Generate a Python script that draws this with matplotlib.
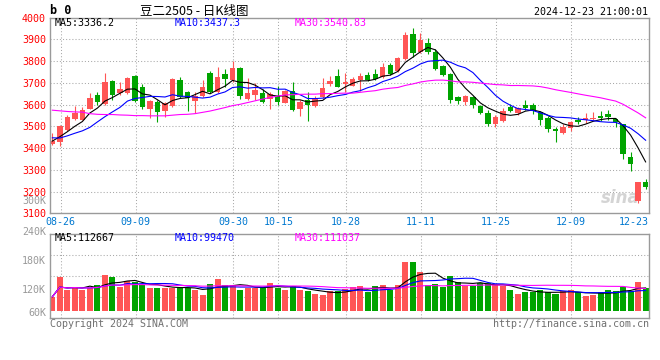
import matplotlib
matplotlib.use("Agg")
import matplotlib.pyplot as plt
import matplotlib.transforms as mtransforms
import numpy as np
import pandas as pd

plt.rcParams['font.family'] = ['DejaVu Sans Mono', 'Noto Sans CJK SC']

# ---------------- data ----------------
opens = [3418, 3428, 3483, 3534, 3531, 3580, 3643, 3604, 3708, 3653,
         3654, 3732, 3682, 3580, 3612, 3570, 3593, 3715, 3658, 3617,
         3639, 3744, 3659, 3741, 3712, 3770, 3625, 3644, 3655, 3625,
         3638, 3608, 3662, 3581, 3619, 3593, 3636, 3694, 3733, 3693,
         3687, 3713, 3736, 3741, 3725, 3782, 3754, 3808, 3925, 3840,
         3882, 3843, 3777, 3741, 3633, 3613, 3633, 3594, 3560, 3509,
         3525, 3587, 3563, 3598, 3598, 3564, 3539, 3488, 3468, 3494,
         3529, 3529, 3532, 3548, 3556, 3533, 3509, 3360, 3157, 3245]
closes = [3432, 3499, 3541, 3563, 3574, 3628, 3612, 3702, 3644, 3672,
          3723, 3618, 3587, 3616, 3566, 3606, 3717, 3635, 3632, 3638,
          3682, 3659, 3728, 3716, 3770, 3637, 3655, 3667, 3612, 3648,
          3611, 3663, 3575, 3611, 3598, 3632, 3678, 3709, 3682, 3702,
          3718, 3731, 3713, 3716, 3774, 3741, 3816, 3921, 3836, 3897,
          3841, 3762, 3736, 3621, 3618, 3639, 3598, 3560, 3509, 3541,
          3570, 3572, 3582, 3583, 3568, 3529, 3489, 3476, 3496, 3520,
          3518, 3539, 3540, 3536, 3544, 3521, 3371, 3325, 3242, 3222]
highs = [3470, 3504, 3552, 3593, 3590, 3653, 3658, 3743, 3712, 3705,
         3727, 3737, 3696, 3621, 3620, 3610, 3720, 3725, 3660, 3657,
         3713, 3756, 3774, 3762, 3802, 3773, 3724, 3698, 3672, 3659,
         3685, 3668, 3705, 3621, 3659, 3641, 3722, 3732, 3762, 3744,
         3728, 3744, 3750, 3762, 3790, 3793, 3820, 3935, 3954, 3931,
         3907, 3854, 3780, 3743, 3639, 3643, 3638, 3598, 3575, 3552,
         3583, 3601, 3590, 3621, 3606, 3570, 3545, 3498, 3512, 3524,
         3544, 3559, 3567, 3570, 3575, 3540, 3512, 3383, 3245, 3258]
lows = [3414, 3410, 3480, 3530, 3529, 3578, 3600, 3600, 3620, 3643,
        3650, 3612, 3578, 3540, 3520, 3542, 3590, 3628, 3569, 3562,
        3636, 3652, 3655, 3682, 3705, 3626, 3620, 3620, 3607, 3581,
        3598, 3605, 3572, 3548, 3526, 3590, 3632, 3687, 3680, 3659,
        3685, 3662, 3710, 3712, 3722, 3736, 3750, 3805, 3820, 3836,
        3831, 3758, 3731, 3606, 3601, 3598, 3583, 3555, 3502, 3495,
        3520, 3566, 3552, 3575, 3556, 3506, 3475, 3430, 3465, 3476,
        3509, 3513, 3529, 3524, 3529, 3498, 3350, 3294, 3149, 3212]
# volume in thousands (K)
volumes = [106, 146, 121, 127, 121, 125, 130, 151, 146, 127,
           139, 136, 130, 125, 125, 125, 125, 125, 125, 121,
           110, 132, 143, 130, 130, 120, 125, 125, 125, 135,
           125, 121, 128, 121, 117, 112, 110, 117, 117, 123,
           126, 128, 115, 128, 130, 119, 130, 177, 177, 158,
           130, 132, 126, 149, 137, 128, 128, 134, 134, 130,
           128, 119, 112, 115, 115, 119, 115, 112, 117, 119,
           115, 108, 110, 115, 120, 117, 126, 117, 137, 124]

# first values of the price averages (their windows start before the first candle)
ma5_head = [3432, 3452, 3475, 3500]
ma10_head = [3447, 3446, 3456, 3468, 3479, 3495, 3520, 3544, 3566]
ma30_head = [3574, 3571, 3568, 3566, 3565, 3558, 3555, 3554, 3554, 3552,
             3551, 3549, 3549, 3548, 3548, 3548, 3551, 3554, 3555, 3558,
             3564, 3570, 3578, 3586, 3595, 3601, 3609, 3617, 3625]

date_tick_index = [1, 11, 24, 30, 39, 49, 59, 69, 79]
date_tick_labels = ['08-26', '09-09', '09-30', '10-15', '10-28',
                    '11-11', '11-25', '12-09', '12-23']
price_ticks = [3100, 3200, 3300, 3400, 3500, 3600, 3700, 3800, 3900, 4000]
vol_ticks = [60, 120, 180, 240]
vol_tick_labels = ['60K', '120K', '180K', '240K']

title_text = '豆二2505 - 日K线图'
time_text = '2024-12-23 21:00:01'
ma_price_text = ['MA5:3336.2', 'MA10:3437.3', 'MA30:3540.83']
ma_vol_text = ['MA5:112667', 'MA10:99470', 'MA30:111037']

# ---------------- styles ----------------
RED = '#ff5555'
GREEN = '#00a400'
MA_COLORS = ['#000000', '#0000ff', '#ff00ff']
GRID = '#a8a8a8'
FRAME = '#9a9a9a'
FS = 7.2

W, H = 660, 360
fig = plt.figure(figsize=(W / 100, H / 100), dpi=100)


def fx(px):
    return px / W


def fy(py):
    return 1 - py / H


def add_px_axes(left, top, right, bottom):
    return fig.add_axes([fx(left), fy(bottom), (right - left) / W, (bottom - top) / H])


o = np.array(opens, float)
c = np.array(closes, float)
hi = np.array(highs, float)
lo = np.array(lows, float)
v = np.array(volumes, float)
n = len(c)
x = np.arange(n)
colors = np.where(c >= o, RED, GREEN)

cs = pd.Series(c)
ma5 = cs.rolling(5).mean().to_numpy()
ma5[:len(ma5_head)] = ma5_head
ma10 = cs.rolling(10).mean().to_numpy()
ma10[:len(ma10_head)] = ma10_head
ma30 = cs.rolling(30).mean().to_numpy()
ma30[:len(ma30_head)] = ma30_head

vs = pd.Series(v)
vma = [vs.rolling(k, min_periods=1).mean().to_numpy() for k in (5, 10, 30)]

XLIM = (-0.31, n - 0.55)
grid_pos = [i + 0.1 for i in date_tick_index[:-1]]
dot = (0, (1, 2))

# ---------------- price panel ----------------
ax = add_px_axes(50, 17.5, 649, 213.3)
ax.set_xlim(*XLIM)
ax.set_ylim(price_ticks[0], price_ticks[-1])
ax.set_yticks(price_ticks)
ax.set_yticklabels([str(t) for t in price_ticks])
ax.tick_params(axis='y', length=0, pad=3, labelsize=FS, labelcolor='#ff0000')
ax.set_xticks([])
for t in price_ticks[1:-1]:
    ax.axhline(t, color=GRID, lw=0.75, ls=dot, zorder=0.2)
for gp in grid_pos:
    ax.axvline(gp, color=GRID, lw=0.75, ls=dot, zorder=0.2)
for s in ax.spines.values():
    s.set_color(FRAME)
    s.set_linewidth(1.0)

ax.text(0.985, 0.08, 'sina', transform=ax.transAxes, ha='right', va='center',
        fontsize=12, fontstyle='italic', fontweight='bold', color='#d4d4d4',
        family='DejaVu Sans', zorder=0.5)

ax.vlines(x, lo, hi, colors=colors, lw=0.8, zorder=1)
ax.bar(x, np.maximum(np.abs(c - o), 3), bottom=np.minimum(o, c), width=0.72,
       color=colors, linewidth=0, zorder=1.5)
for m, col in zip((ma5, ma10, ma30), MA_COLORS):
    ax.plot(x, m, color=col, lw=0.8, zorder=2)

# date labels
bt = mtransforms.blended_transform_factory(ax.transData, fig.transFigure)
for idx, lab, gp in zip(date_tick_index[:-1], date_tick_labels[:-1], grid_pos):
    ax.text(gp, fy(222), lab, transform=bt, ha='center', va='center',
            fontsize=FS, color='#0078d0')
bt2 = mtransforms.blended_transform_factory(ax.transAxes, fig.transFigure)
ax.text(1.0, fy(222), date_tick_labels[-1], transform=bt2, ha='right',
        va='center', fontsize=FS, color='#0078d0')

# ---------------- volume panel ----------------
VOL_YLIM = (62.0, 236.0)
VOL_BASE = 76.5
axv = add_px_axes(50, 234, 649, 318)
axv.set_xlim(*XLIM)
axv.set_ylim(*VOL_YLIM)
axv.set_xticks([])
axv.set_yticks([])
for s in axv.spines.values():
    s.set_color(FRAME)
    s.set_linewidth(1.0)
for f in (0.25, 0.5, 0.75):
    axv.axhline(VOL_YLIM[0] + f * (VOL_YLIM[1] - VOL_YLIM[0]), color=GRID,
                lw=0.75, ls=dot, zorder=0.2)
for gp in grid_pos:
    axv.axvline(gp, color=GRID, lw=0.75, ls=dot, zorder=0.2)
axv.bar(x, v - VOL_BASE, bottom=VOL_BASE, width=0.8, color=colors,
        linewidth=0, zorder=1.5)
for m, col in zip(vma, MA_COLORS):
    axv.plot(x, m, color=col, lw=0.8, zorder=2)

yt = axv.get_yaxis_transform()
for t, lab in zip(vol_ticks, vol_tick_labels):
    if t < VOL_YLIM[0]:
        axv.text(-4 / 599, VOL_YLIM[0], lab, transform=yt, ha='right',
                 va='bottom', fontsize=FS, color='#999999')
    else:
        axv.text(-4 / 599, t, lab, transform=yt, ha='right', va='center',
                 fontsize=FS, color='#999999')

# ---------------- texts ----------------
fig.text(fx(50), fy(11), 'b 0', fontsize=8.5, fontweight='bold', va='center',
         ha='left', color='#000000')
fig.text(fx(140), fy(11), title_text, fontsize=9, va='center', ha='left',
         color='#000000', family=['Noto Sans CJK SC', 'DejaVu Sans'])
fig.text(fx(648), fy(12), time_text, fontsize=FS, va='center', ha='right',
         color='#000000')
for tx, xx, col in zip(ma_price_text, (55, 175, 295), MA_COLORS):
    fig.text(fx(xx), fy(23.5), tx, fontsize=FS, va='center', ha='left', color=col)
for tx, xx, col in zip(ma_vol_text, (55, 175, 295), MA_COLORS):
    fig.text(fx(xx), fy(238), tx, fontsize=FS, va='center', ha='left', color=col)
fig.text(fx(46), fy(201), '300K', fontsize=FS, va='center', ha='right',
         color='#999999')
fig.text(fx(50), fy(324), 'Copyright 2024 SINA.COM', fontsize=FS, va='center',
         ha='left', color='#707070')
fig.text(fx(649), fy(324), 'http://finance.sina.com.cn', fontsize=FS,
         va='center', ha='right', color='#707070')

fig.savefig('out.png', dpi=100)
